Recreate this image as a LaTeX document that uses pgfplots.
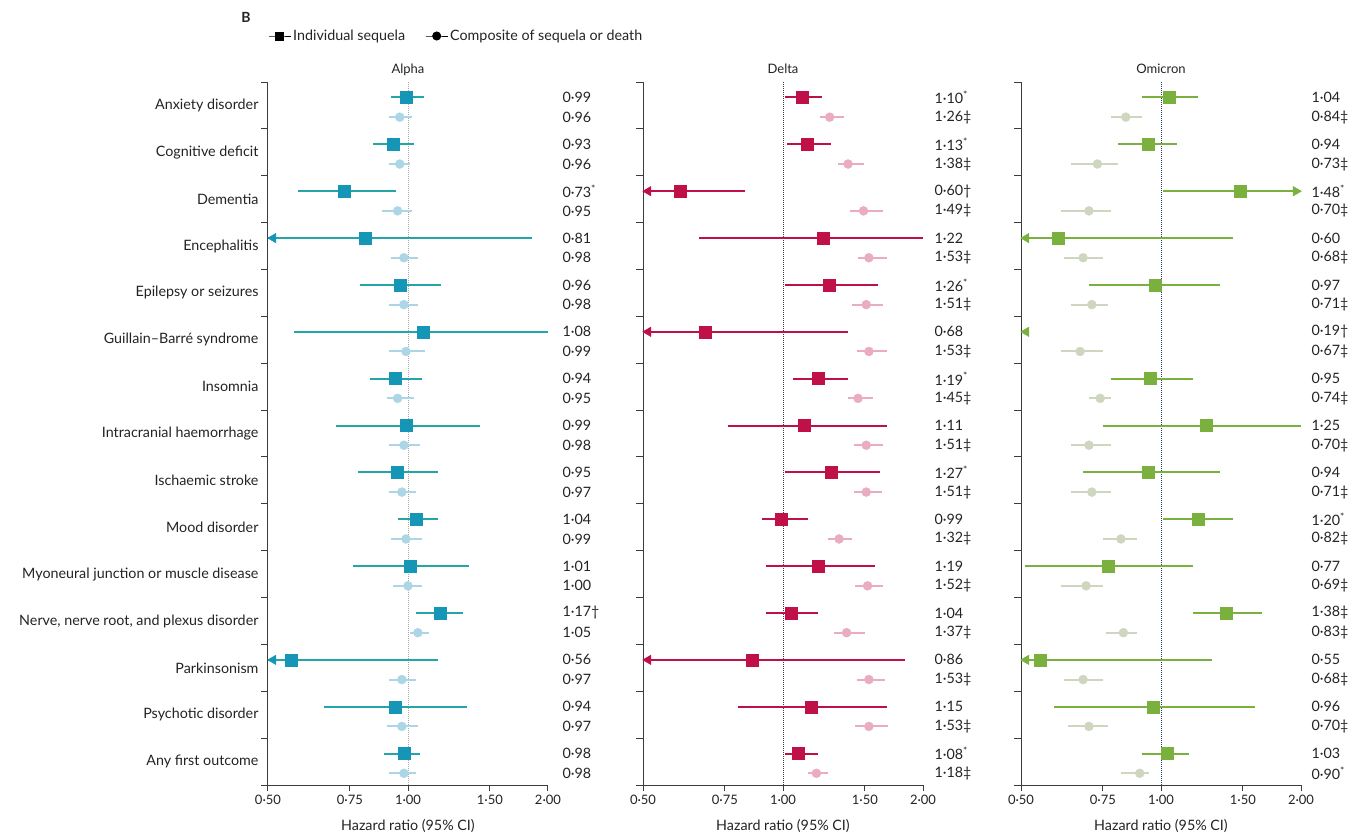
\documentclass[border=0pt]{standalone}
\usepackage{fontspec}
\setmainfont{Lato}
\usepackage{pgfplots}
\pgfplotsset{compat=1.18}
\usepackage{pgfplotstable}

\definecolor{txt}{RGB}{35,35,35}
\definecolor{axcol}{RGB}{60,60,60}
\definecolor{aInd}{RGB}{22,150,182}
\definecolor{aLine}{RGB}{35,165,170}
\definecolor{aComp}{RGB}{172,214,230}
\definecolor{dInd}{RGB}{192,16,72}
\definecolor{dComp}{RGB}{234,172,192}
\definecolor{oInd}{RGB}{122,176,62}
\definecolor{oComp}{RGB}{206,214,192}
\definecolor{oDot}{RGB}{40,60,120}

\newcommand\fs{\fontsize{14.3}{17}\selectfont}
\newcommand\fst{\fontsize{13}{15}\selectfont}
\newcommand\as{\textsuperscript{*}}

% ---------- Alpha ----------
\pgfplotstableread{
y est lab
0.33 0.99 0·99
1.33 0.93 0·93
2.33 0.73 0·73\as
3.33 0.81 0·81
4.33 0.96 0·96
5.33 1.08 1·08
6.33 0.94 0·94
7.33 0.99 0·99
8.33 0.95 0·95
9.33 1.04 1·04
10.33 1.01 1·01
11.33 1.17 1·17†
12.33 0.56 0·56
13.33 0.94 0·94
14.33 0.98 0·98
}\alphaInd
\pgfplotstableread{
y est lab
0.75 0.96 0·96
1.75 0.96 0·96
2.75 0.95 0·95
3.75 0.98 0·98
4.75 0.98 0·98
5.75 0.99 0·99
6.75 0.95 0·95
7.75 0.98 0·98
8.75 0.97 0·97
9.75 0.99 0·99
10.75 1.00 1·00
11.75 1.05 1·05
12.75 0.97 0·97
13.75 0.97 0·97
14.75 0.98 0·98
}\alphaComp
% ---------- Delta ----------
\pgfplotstableread{
y est lab
0.33 1.10 1·10\as
1.33 1.13 1·13\as
2.33 0.60 0·60†
3.33 1.22 1·22
4.33 1.26 1·26\as
5.33 0.68 0·68
6.33 1.19 1·19\as
7.33 1.11 1·11
8.33 1.27 1·27\as
9.33 0.99 0·99
10.33 1.19 1·19
11.33 1.04 1·04
12.33 0.86 0·86
13.33 1.15 1·15
14.33 1.08 1·08\as
}\deltaInd
\pgfplotstableread{
y est lab
0.75 1.26 1·26‡
1.75 1.38 1·38‡
2.75 1.49 1·49‡
3.75 1.53 1·53‡
4.75 1.51 1·51‡
5.75 1.53 1·53‡
6.75 1.45 1·45‡
7.75 1.51 1·51‡
8.75 1.51 1·51‡
9.75 1.32 1·32‡
10.75 1.52 1·52‡
11.75 1.37 1·37‡
12.75 1.53 1·53‡
13.75 1.53 1·53‡
14.75 1.18 1·18‡
}\deltaComp
% ---------- Omicron ----------
\pgfplotstableread{
y est lab
0.33 1.04 1·04
1.33 0.94 0·94
2.33 1.48 1·48\as
3.33 0.60 0·60
4.33 0.97 0·97
5.33 nan 0·19†
6.33 0.95 0·95
7.33 1.25 1·25
8.33 0.94 0·94
9.33 1.20 1·20\as
10.33 0.77 0·77
11.33 1.38 1·38‡
12.33 0.55 0·55
13.33 0.96 0·96
14.33 1.03 1·03
}\omicronInd
\pgfplotstableread{
y est lab
0.75 0.84 0·84‡
1.75 0.73 0·73‡
2.75 0.70 0·70‡
3.75 0.68 0·68‡
4.75 0.71 0·71‡
5.75 0.67 0·67‡
6.75 0.74 0·74‡
7.75 0.70 0·70‡
8.75 0.71 0·71‡
9.75 0.82 0·82‡
10.75 0.69 0·69‡
11.75 0.83 0·83‡
12.75 0.68 0·68‡
13.75 0.70 0·70‡
14.75 0.90 0·90\as
}\omicronComp

\begin{document}
\begin{tikzpicture}
\useasboundingbox (0,0) rectangle (1355pt,833pt);
\node[font=\bfseries\fontsize{14}{16}\selectfont, text=txt] at (246pt,816pt) {B};

% ================= ALPHA =================
\begin{axis}[
    xmode=log, xmin=0.5, xmax=2, ymin=0, ymax=15, y dir=reverse,
    scale only axis, width=280pt, height=703pt,
    axis x line*=bottom, axis y line*=left,
    axis line style={line width=1pt, draw=axcol},
    xtick={0.5,0.75,1,1.5,2},
    xticklabels={0·50,0·75,1·00,1·50,2·00},
    ytick={0.5,1.5,...,14.5},
    minor ytick={0,1,...,15},
    tick align=outside,
    major tick length=6pt, minor tick length=7pt,
    major y tick style={draw=none},
    tick style={draw=axcol, line width=1pt},
    tick label style={text=txt},
    xticklabel style={anchor=base, yshift=-13pt, font=\fst},
    yticklabel style={font=\fs},
    xlabel={Hazard ratio (95\% CI)},
    xlabel style={at={(0.5,0)}, anchor=base, yshift=-45pt, font=\fs, text=txt},
    title style={at={(0.5,1)}, anchor=base, yshift=3pt, font=\fst, text=txt},
    clip=false,
    unbounded coords=jump,
    title={Alpha},
  yticklabels={Anxiety disorder,Cognitive deficit,Dementia,Encephalitis,Epilepsy or seizures,Guillain–Barré syndrome,Insomnia,Intracranial haemorrhage,Ischaemic stroke,Mood disorder,Myoneural junction or muscle disease,{Nerve, nerve root, and plexus disorder},Parkinsonism,Psychotic disorder,Any first outcome},
  legend columns=2,
  legend cell align=left,
  legend image code/.code={\draw[#1, mark repeat=2, mark phase=2] plot coordinates {(0pt,0pt) (11pt,0pt) (22pt,0pt)};},
  legend style={at={(0,1)}, anchor=west, xshift=-3pt, yshift=46pt, draw=none, fill=none, font=\fs, text=txt,
    /tikz/every even column/.append style={column sep=18pt}},
  at={(268pt,48pt)}, anchor=south west]
\addlegendimage{black, line width=1pt, mark=square*, mark size=4pt}
\addlegendentry{Individual sequela}
\addlegendimage{black, line width=1pt, mark=*, mark size=4pt}
\addlegendentry{Composite of sequela or death}
\addplot[gray!70, densely dotted, line width=1pt] coordinates {(1,0) (1,15)};
% composite CIs
\addplot[aComp, line width=2pt] coordinates {
(0.91,0.75)(1.02,0.75)(nan,nan)(0.91,1.75)(1.01,1.75)(nan,nan)(0.88,2.75)(1.02,2.75)(nan,nan)
(0.92,3.75)(1.05,3.75)(nan,nan)(0.91,4.75)(1.05,4.75)(nan,nan)(0.91,5.75)(1.09,5.75)(nan,nan)
(0.90,6.75)(1.03,6.75)(nan,nan)(0.91,7.75)(1.06,7.75)(nan,nan)(0.91,8.75)(1.04,8.75)(nan,nan)
(0.92,9.75)(1.07,9.75)(nan,nan)(0.93,10.75)(1.07,10.75)(nan,nan)(1.01,11.75)(1.11,11.75)(nan,nan)
(0.91,12.75)(1.04,12.75)(nan,nan)(0.90,13.75)(1.05,13.75)(nan,nan)(0.91,14.75)(1.04,14.75)};
\addplot[only marks, mark=*, mark size=4.5pt, aComp] table[x=est, y=y] \alphaComp;
% individual CIs
\addplot[aLine, line width=2pt] coordinates {
(0.92,0.33)(1.08,0.33)(nan,nan)(0.84,1.33)(1.03,1.33)(nan,nan)(0.58,2.33)(0.94,2.33)(nan,nan)
(0.5,3.33)(1.85,3.33)(nan,nan)(0.79,4.33)(1.18,4.33)(nan,nan)(0.57,5.33)(2.0,5.33)(nan,nan)
(0.83,6.33)(1.07,6.33)(nan,nan)(0.70,7.33)(1.43,7.33)(nan,nan)(0.78,8.33)(1.16,8.33)(nan,nan)
(0.95,9.33)(1.16,9.33)(nan,nan)(0.76,10.33)(1.35,10.33)(nan,nan)(1.04,11.33)(1.31,11.33)(nan,nan)
(0.5,12.33)(1.16,12.33)(nan,nan)(0.66,13.33)(1.34,13.33)(nan,nan)(0.89,14.33)(1.06,14.33)};
\addplot[only marks, mark=square*, mark size=6pt, aInd] table[x=est, y=y] \alphaInd;
\addplot[only marks, mark=triangle*, mark size=5.5pt, mark options={rotate=90}, aInd] coordinates {(0.513,3.33) (0.513,12.33)};
\addplot[nodes near coords, point meta=explicit symbolic, nodes near coords style={anchor=west, xshift=11pt, font=\fs, text=txt}, only marks, mark=none] table[x expr=2, y=y, meta=lab] \alphaInd;
\addplot[nodes near coords, point meta=explicit symbolic, nodes near coords style={anchor=west, xshift=11pt, font=\fs, text=txt}, only marks, mark=none] table[x expr=2, y=y, meta=lab] \alphaComp;
\end{axis}

% ================= DELTA =================
\begin{axis}[
    xmode=log, xmin=0.5, xmax=2, ymin=0, ymax=15, y dir=reverse,
    scale only axis, width=280pt, height=703pt,
    axis x line*=bottom, axis y line*=left,
    axis line style={line width=1pt, draw=axcol},
    xtick={0.5,0.75,1,1.5,2},
    xticklabels={0·50,0·75,1·00,1·50,2·00},
    ytick={0.5,1.5,...,14.5}, yticklabels={},
    minor ytick={0,1,...,15},
    tick align=outside,
    major tick length=6pt, minor tick length=7pt,
    major y tick style={draw=none},
    tick style={draw=axcol, line width=1pt},
    tick label style={text=txt},
    xticklabel style={anchor=base, yshift=-13pt, font=\fst},
    xlabel={Hazard ratio (95\% CI)},
    xlabel style={at={(0.5,0)}, anchor=base, yshift=-45pt, font=\fs, text=txt},
    title style={at={(0.5,1)}, anchor=base, yshift=3pt, font=\fst, text=txt},
    clip=false,
    unbounded coords=jump,
    title={Delta},
    at={(643pt,48pt)}, anchor=south west]
\addplot[axcol, densely dotted, line width=1pt] coordinates {(1,0) (1,15)};
\addplot[dComp, line width=2pt] coordinates {
(1.20,0.75)(1.35,0.75)(nan,nan)(1.31,1.75)(1.49,1.75)(nan,nan)(1.39,2.75)(1.64,2.75)(nan,nan)
(1.45,3.75)(1.67,3.75)(nan,nan)(1.41,4.75)(1.64,4.75)(nan,nan)(1.44,5.75)(1.67,5.75)(nan,nan)
(1.38,6.75)(1.56,6.75)(nan,nan)(1.42,7.75)(1.64,7.75)(nan,nan)(1.42,8.75)(1.63,8.75)(nan,nan)
(1.25,9.75)(1.41,9.75)(nan,nan)(1.43,10.75)(1.64,10.75)(nan,nan)(1.29,11.75)(1.50,11.75)(nan,nan)
(1.44,12.75)(1.66,12.75)(nan,nan)(1.43,13.75)(1.68,13.75)(nan,nan)(1.13,14.75)(1.25,14.75)};
\addplot[only marks, mark=*, mark size=4.5pt, dComp] table[x=est, y=y] \deltaComp;
\addplot[dInd, line width=2pt] coordinates {
(1.01,0.33)(1.21,0.33)(nan,nan)(1.02,1.33)(1.27,1.33)(nan,nan)(0.5,2.33)(0.83,2.33)(nan,nan)
(0.66,3.33)(2.0,3.33)(nan,nan)(1.01,4.33)(1.60,4.33)(nan,nan)(0.5,5.33)(1.38,5.33)(nan,nan)
(1.05,6.33)(1.38,6.33)(nan,nan)(0.76,7.33)(1.67,7.33)(nan,nan)(1.01,8.33)(1.62,8.33)(nan,nan)
(0.90,9.33)(1.13,9.33)(nan,nan)(0.92,10.33)(1.58,10.33)(nan,nan)(0.92,11.33)(1.19,11.33)(nan,nan)
(0.5,12.33)(1.83,12.33)(nan,nan)(0.80,13.33)(1.67,13.33)(nan,nan)(1.01,14.33)(1.19,14.33)};
\addplot[only marks, mark=square*, mark size=6pt, dInd] table[x=est, y=y] \deltaInd;
\addplot[only marks, mark=triangle*, mark size=5.5pt, mark options={rotate=90}, dInd] coordinates {(0.513,2.33) (0.513,5.33) (0.513,12.33)};
\addplot[nodes near coords, point meta=explicit symbolic, nodes near coords style={anchor=west, xshift=8pt, font=\fs, text=txt}, only marks, mark=none] table[x expr=2, y=y, meta=lab] \deltaInd;
\addplot[nodes near coords, point meta=explicit symbolic, nodes near coords style={anchor=west, xshift=8pt, font=\fs, text=txt}, only marks, mark=none] table[x expr=2, y=y, meta=lab] \deltaComp;
\end{axis}

% ================= OMICRON =================
\begin{axis}[
    xmode=log, xmin=0.5, xmax=2, ymin=0, ymax=15, y dir=reverse,
    scale only axis, width=280pt, height=703pt,
    axis x line*=bottom, axis y line*=left,
    axis line style={line width=1pt, draw=axcol},
    xtick={0.5,0.75,1,1.5,2},
    xticklabels={0·50,0·75,1·00,1·50,2·00},
    ytick={0.5,1.5,...,14.5}, yticklabels={},
    minor ytick={0,1,...,15},
    tick align=outside,
    major tick length=6pt, minor tick length=7pt,
    major y tick style={draw=none},
    tick style={draw=axcol, line width=1pt},
    tick label style={text=txt},
    xticklabel style={anchor=base, yshift=-13pt, font=\fst},
    xlabel={Hazard ratio (95\% CI)},
    xlabel style={at={(0.5,0)}, anchor=base, yshift=-45pt, font=\fs, text=txt},
    title style={at={(0.5,1)}, anchor=base, yshift=3pt, font=\fst, text=txt},
    clip=false,
    unbounded coords=jump,
    title={Omicron},
    at={(1021pt,48pt)}, anchor=south west]
\addplot[oDot, densely dotted, line width=1pt] coordinates {(1,0) (1,15)};
\addplot[oComp, line width=2pt] coordinates {
(0.78,0.75)(0.91,0.75)(nan,nan)(0.64,1.75)(0.81,1.75)(nan,nan)(0.61,2.75)(0.78,2.75)(nan,nan)
(0.62,3.75)(0.75,3.75)(nan,nan)(0.64,4.75)(0.77,4.75)(nan,nan)(0.61,5.75)(0.75,5.75)(nan,nan)
(0.70,6.75)(0.78,6.75)(nan,nan)(0.64,7.75)(0.78,7.75)(nan,nan)(0.64,8.75)(0.78,8.75)(nan,nan)
(0.75,9.75)(0.89,9.75)(nan,nan)(0.61,10.75)(0.75,10.75)(nan,nan)(0.76,11.75)(0.89,11.75)(nan,nan)
(0.62,12.75)(0.75,12.75)(nan,nan)(0.63,13.75)(0.77,13.75)(nan,nan)(0.82,14.75)(0.94,14.75)};
\addplot[only marks, mark=*, mark size=4.5pt, oComp] table[x=est, y=y] \omicronComp;
\addplot[oInd, line width=2pt] coordinates {
(0.91,0.33)(1.20,0.33)(nan,nan)(0.81,1.33)(1.08,1.33)(nan,nan)(1.01,2.33)(1.96,2.33)(nan,nan)
(0.5,3.33)(1.43,3.33)(nan,nan)(0.70,4.33)(1.34,4.33)(nan,nan)
(0.78,6.33)(1.17,6.33)(nan,nan)(0.75,7.33)(2.0,7.33)(nan,nan)(0.68,8.33)(1.34,8.33)(nan,nan)
(1.01,9.33)(1.43,9.33)(nan,nan)(0.51,10.33)(1.17,10.33)(nan,nan)(1.17,11.33)(1.65,11.33)(nan,nan)
(0.5,12.33)(1.29,12.33)(nan,nan)(0.59,13.33)(1.59,13.33)(nan,nan)(0.91,14.33)(1.15,14.33)};
\addplot[only marks, mark=square*, mark size=6pt, oInd] table[x=est, y=y] \omicronInd;
\addplot[only marks, mark=triangle*, mark size=5.5pt, mark options={rotate=90}, oInd] coordinates {(0.513,3.33) (0.513,5.33) (0.513,12.33)};
\addplot[only marks, mark=triangle*, mark size=5.5pt, mark options={rotate=-90}, oInd] coordinates {(1.95,2.33)};
\addplot[nodes near coords, point meta=explicit symbolic, nodes near coords style={anchor=west, xshift=7pt, font=\fs, text=txt}, only marks, mark=none] table[x expr=2, y=y, meta=lab] \omicronInd;
\addplot[nodes near coords, point meta=explicit symbolic, nodes near coords style={anchor=west, xshift=7pt, font=\fs, text=txt}, only marks, mark=none] table[x expr=2, y=y, meta=lab] \omicronComp;
\end{axis}
\end{tikzpicture}
\end{document}
